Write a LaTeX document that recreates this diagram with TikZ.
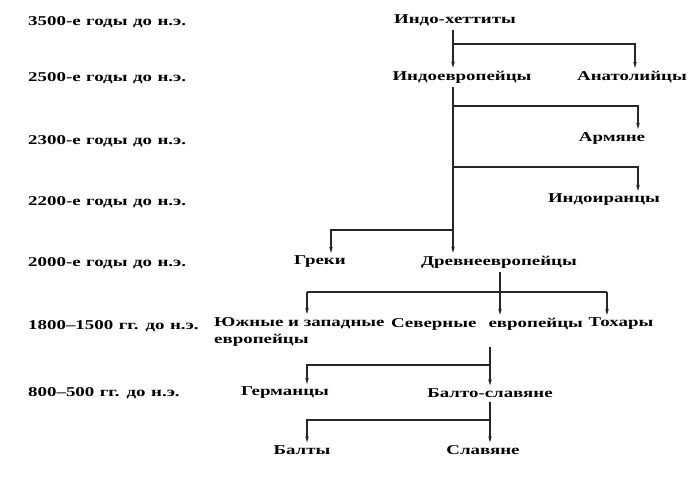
\documentclass[tikz,border=0pt]{standalone}
\usepackage{fontspec}
\setmainfont{Liberation Serif}[FakeStretch=1.4]
\usetikzlibrary{arrows.meta}
\newcommand\mydatefont{\fontsize{13.5}{17}\selectfont\bfseries\spaceskip=5.5pt plus 1pt\relax}
\begin{document}
\begin{tikzpicture}[x=1pt,y=-1pt,
  lab/.style={inner sep=0pt,font=\fontsize{13.5}{17}\selectfont\bfseries},
  date/.style={lab,anchor=west,font=\mydatefont},
  ln/.style={line width=1.1pt,draw=black!85},
  arr/.style={ln,-{Stealth[length=6pt,width=3.5pt]}}]
\useasboundingbox (0,0) rectangle (700,476);
% dates
\node[date] (d1) at (28,22) {3500-е годы до н.э.};
\node[date] (d2) at (28,78) {2500-е годы до н.э.};
\node[date] (d3) at (28,141) {2300-е годы до н.э.};
\node[date] (d4) at (28,202) {2200-е годы до н.э.};
\node[date] (d5) at (28,263) {2000-е годы до н.э.};
\node[date] (d6) at (28,326) {1800–1500 гг. до н.э.};
\node[date] (d7) at (28,393) {800–500 гг. до н.э.};
% tree
\node[lab] (ih) at (455,20) {Индо-хеттиты};
\node[lab] (ie) at (462,77) {Индоевропейцы};
\node[lab] (an) at (632,77) {Анатолийцы};
\node[lab] (arm) at (612,138) {Армяне};
\node[lab] (ii) at (604,200) {Индоиранцы};
\node[lab] (gr) at (320,262) {Греки};
\node[lab] (de) at (499,262) {Древнеевропейцы};
\node[lab,align=left,anchor=north west] (ug) at (214,317) {Южные и западные\\европейцы};
\node[lab] (se) at (487,324) {Северные\hspace{0.9em}европейцы};
\node[lab] (to) at (621,324) {Тохары};
\node[lab] (ge) at (285,393) {Германцы};
\node[lab] (bs) at (490,393) {Балто-славяне};
\node[lab] (ba) at (302,450) {Балты};
\node[lab] (sl) at (483,450) {Славяне};
% columns and branch points
\coordinate (t1) at (453,0);
\coordinate (b1) at (453,44);
\coordinate (b1e) at (635,44);
\coordinate (b2) at (453,106);
\coordinate (b2e) at (638,106);
\coordinate (b3) at (453,167);
\coordinate (b3e) at (638,167);
\coordinate (b4) at (453,230);
\coordinate (b4e) at (331,230);
\coordinate (t2) at (500,0);
\coordinate (b5) at (500,292);
\coordinate (b5l) at (307,292);
\coordinate (b5r) at (607,292);
\coordinate (t3top) at (490,347);
\coordinate (b6) at (490,365);
\coordinate (b6e) at (307,365);
\coordinate (b7) at (490,420);
\coordinate (b7e) at (307,420);
% connectors
\draw[arr] ([yshift=-4pt]ih.south -| t1) -- ([yshift=3pt]ie.north -| t1);
\draw[arr] (b1) -- (b1e) -- ([yshift=3pt]an.north -| b1e);
\draw[arr] ([yshift=-4pt]ie.south -| t1) -- ([yshift=3pt]de.north -| t1);
\draw[arr] (b2) -- (b2e) -- ([yshift=3pt]arm.north -| b2e);
\draw[arr] (b3) -- (b3e) -- ([yshift=3pt]ii.north -| b3e);
\draw[arr] (b4) -- (b4e) -- ([yshift=3pt]gr.north -| b4e);
\draw[ln] ([yshift=-4pt]de.south -| t2) -- (b5);
\draw[ln] (b5l) -- (b5r);
\draw[arr] (b5l) -- ([yshift=3pt]ug.north -| b5l);
\draw[arr] (b5) -- ([yshift=3pt]se.north -| b5);
\draw[arr] (b5r) -- ([yshift=3pt]to.north -| b5r);
\draw[arr] (t3top) -- ([yshift=3pt]bs.north -| t3top);
\draw[arr] (b6) -- (b6e) -- ([yshift=3pt]ge.north -| b6e);
\draw[arr] ([yshift=-4pt]bs.south -| b7) -- ([yshift=3pt]sl.north -| b7);
\draw[arr] (b7) -- (b7e) -- ([yshift=3pt]ba.north -| b7e);
\end{tikzpicture}
\end{document}
